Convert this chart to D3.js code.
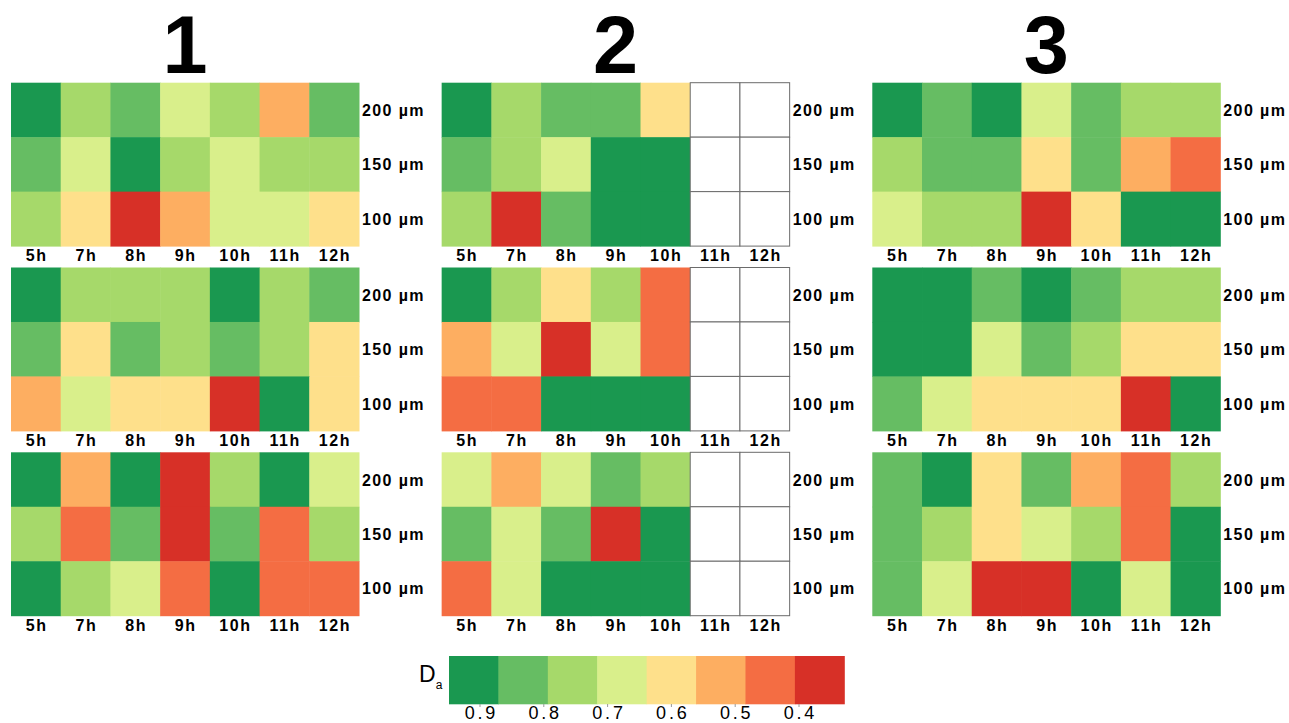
<!DOCTYPE html>
<html><head><meta charset="utf-8">
<script src="https://cdn.jsdelivr.net/npm/d3@7"></script>
<style>body{margin:0;background:#fff}svg{display:block}</style>
</head><body>
<svg id="chart" width="1289" height="723"></svg>
<script>
// ---- data ----
const hours = ["5h","7h","8h","9h","10h","11h","12h"];
const depths = ["200 µm","150 µm","100 µm"];
const panelTitles = ["1","2","3"];
// Da value per cell, rows = depths (200,150,100), columns = hours; null = no data
// panel naming: p<row><col>
const p11 = [[0.91,0.76,0.83,0.68,0.76,0.52,0.83],[0.83,0.68,0.91,0.76,0.68,0.76,0.76],[0.76,0.60,0.37,0.52,0.68,0.68,0.60]];
const p12 = [[0.91,0.76,0.83,0.83,0.60,null,null],[0.83,0.76,0.68,0.91,0.91,null,null],[0.76,0.37,0.83,0.91,0.91,null,null]];
const p13 = [[0.91,0.83,0.91,0.68,0.83,0.76,0.76],[0.76,0.83,0.83,0.60,0.83,0.52,0.45],[0.68,0.76,0.76,0.37,0.60,0.91,0.91]];
const p21 = [[0.91,0.76,0.76,0.76,0.91,0.76,0.83],[0.83,0.60,0.83,0.76,0.83,0.76,0.60],[0.52,0.68,0.60,0.60,0.37,0.91,0.60]];
const p22 = [[0.91,0.76,0.60,0.76,0.45,null,null],[0.52,0.68,0.37,0.68,0.45,null,null],[0.45,0.45,0.91,0.91,0.91,null,null]];
const p23 = [[0.91,0.91,0.83,0.91,0.83,0.76,0.76],[0.91,0.91,0.68,0.83,0.76,0.60,0.60],[0.83,0.68,0.60,0.60,0.60,0.37,0.91]];
const p31 = [[0.91,0.52,0.91,0.37,0.76,0.91,0.68],[0.76,0.45,0.83,0.37,0.83,0.45,0.76],[0.91,0.76,0.68,0.45,0.91,0.45,0.45]];
const p32 = [[0.68,0.52,0.68,0.83,0.76,null,null],[0.83,0.68,0.83,0.37,0.91,null,null],[0.45,0.68,0.91,0.91,0.91,null,null]];
const p33 = [[0.83,0.91,0.60,0.83,0.52,0.45,0.76],[0.83,0.76,0.60,0.68,0.76,0.45,0.91],[0.83,0.68,0.37,0.37,0.91,0.68,0.91]];
const panels = [[p11,p12,p13],[p21,p22,p23],[p31,p32,p33]];
const legendTicks = [0.9,0.8,0.7,0.6,0.5,0.4];
const legendLevels = [0,1,2,3,4,5,6,7];

// ---- scales ----
const palette = d3.schemeRdYlGn[8];
const color = d3.scaleQuantize().domain([0.33,0.95]).range(palette);

const svg = d3.select("#chart");
const pw = 348, ph = 163.4;
const x = d3.scaleBand().domain(hours).range([0,pw]);
const y = d3.scaleBand().domain(depths).range([0,ph]);
const panelX = d3.scaleLinear().domain([0,2]).range([11,872.3]);
const panelY = d3.scaleLinear().domain([0,2]).range([82.7,452.3]);

const labelFont = "'Liberation Sans', Arial, sans-serif";

// titles
svg.selectAll("text.title").data(panelTitles).join("text")
  .attr("class","title")
  .attr("x",(d,i)=>panelX(i)+pw/2)
  .attr("y",73)
  .attr("text-anchor","middle")
  .attr("font-family",labelFont).attr("font-weight","bold").attr("font-size",81)
  .text(d=>d);

panels.forEach((row,ri)=>{
  row.forEach((data,ci)=>{
    const g = svg.append("g").attr("transform",`translate(${panelX(ci)},${panelY(ri)})`);
    const cells = [];
    data.forEach((vals,di)=>vals.forEach((v,hi)=>cells.push({d:depths[di],h:hours[hi],v})));
    g.selectAll("rect.cell").data(cells.filter(c=>c.v!==null)).join("rect")
      .attr("x",c=>x(c.h)).attr("y",c=>y(c.d))
      .attr("width",x.bandwidth()+0.5).attr("height",y.bandwidth()+0.5)
      .attr("fill",c=>color(c.v));
    g.selectAll("rect.empty").data(cells.filter(c=>c.v===null)).join("rect")
      .attr("x",c=>x(c.h)).attr("y",c=>y(c.d))
      .attr("width",x.bandwidth()).attr("height",y.bandwidth())
      .attr("fill","#fff").attr("stroke","#6b6b6b").attr("stroke-width",1);
    // x labels
    g.selectAll("text.xl").data(hours).join("text")
      .attr("x",h=>x(h)+x.bandwidth()/2+0.8).attr("y",ph+15)
      .attr("text-anchor","middle")
      .attr("font-family",labelFont).attr("font-weight","bold").attr("font-size",16)
      .attr("letter-spacing",1.6)
      .text(h=>h);
    // y labels
    g.selectAll("text.yl").data(depths).join("text")
      .attr("x",pw+3).attr("y",d=>y(d)+y.bandwidth()/2+6)
      .attr("font-family",labelFont).attr("font-weight","bold").attr("font-size",16)
      .attr("letter-spacing",1.4)
      .text(d=>d);
  });
});

// legend
const lx = d3.scaleBand().domain(legendLevels).range([449,844.3]);
const lg = svg.append("g");
lg.selectAll("rect").data(legendLevels).join("rect")
  .attr("x",d=>lx(d)).attr("y",656)
  .attr("width",lx.bandwidth()+0.5).attr("height",48.3)
  .attr("fill",d=>palette[7-d]);
const tickX = d3.scaleLinear().domain([0.9,0.4]).range([480,799]);
lg.selectAll("line.tk").data(legendTicks).join("line")
  .attr("x1",t=>tickX(t)).attr("x2",t=>tickX(t))
  .attr("y1",704).attr("y2",707).attr("stroke","#999").attr("stroke-width",1);
lg.selectAll("text.tl").data(legendTicks).join("text")
  .attr("x",t=>tickX(t)+1.4).attr("y",719)
  .attr("text-anchor","middle")
  .attr("font-family",labelFont).attr("font-size",18).attr("letter-spacing",2.8)
  .text(t=>d3.format(".1f")(t));
const da = lg.append("text").attr("x",419).attr("y",682)
  .attr("font-family",labelFont).attr("font-size",23);
da.append("tspan").text("D");
da.append("tspan").attr("font-size",12).attr("dy",7).text("a");
</script>
</body></html>
